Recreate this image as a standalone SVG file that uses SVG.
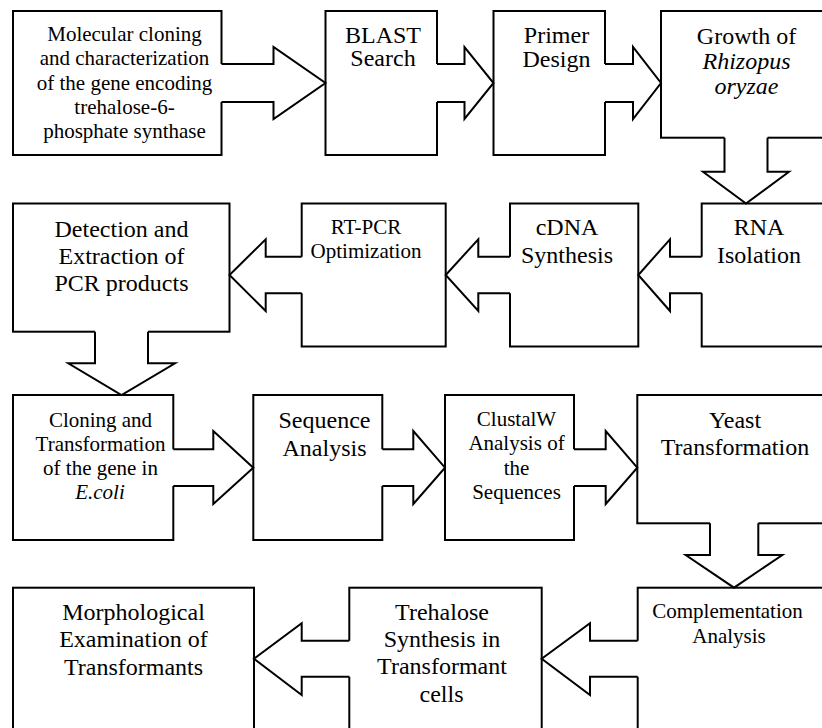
<svg xmlns="http://www.w3.org/2000/svg" width="822" height="728" viewBox="0 0 822 728">
<style>
.box{fill:#fff;stroke:#000;stroke-width:2}
.af{fill:#fff;stroke:none}
.al{fill:none;stroke:#000;stroke-width:2;stroke-linejoin:miter}
text{font-family:"Liberation Serif","Times New Roman",serif;fill:#000;text-anchor:middle}
.s21{font-size:21px}
.s24{font-size:24px}
.i{font-style:italic}
</style>
<rect width="822" height="728" fill="#fff"/>
<g id="n1"><rect class="box" x="13" y="11" width="208.5" height="144"/>
<text class="s21" x="124.5"><tspan x="124.5" y="41">Molecular cloning</tspan><tspan x="124.5" y="65">and characterization</tspan><tspan x="124.5" y="89.5">of the gene encoding</tspan><tspan x="124.5" y="113.5">trehalose-6-</tspan><tspan x="124.5" y="138">phosphate synthase</tspan></text></g>
<g id="n2"><rect class="box" x="325.5" y="11" width="111.5" height="144"/>
<text class="s24"><tspan x="383" y="42.5">BLAST</tspan><tspan x="383" y="66">Search</tspan></text></g>
<g id="n3"><rect class="box" x="493.5" y="11" width="111.5" height="144"/>
<text class="s24"><tspan x="556.5" y="43">Primer</tspan><tspan x="556.5" y="66.5">Design</tspan></text></g>
<g id="n4"><rect class="box" x="661" y="11" width="180" height="126.7"/>
<text class="s24"><tspan x="746.5" y="44">Growth of</tspan><tspan x="746.5" y="68.5" class="i">Rhizopus</tspan><tspan x="746.5" y="93.5" class="i">oryzae</tspan></text></g>
<g id="n5"><rect class="box" x="701.7" y="203.5" width="140" height="143"/>
<text class="s24"><tspan x="759" y="235">RNA</tspan><tspan x="759" y="263">Isolation</tspan></text></g>
<g id="n6"><rect class="box" x="510" y="203.5" width="128.3" height="143"/>
<text class="s24"><tspan x="567" y="235">cDNA</tspan><tspan x="567" y="263">Synthesis</tspan></text></g>
<g id="n7"><rect class="box" x="301.7" y="203.5" width="144" height="143"/>
<text class="s21"><tspan x="366" y="234">RT-PCR</tspan><tspan x="366" y="258">Optimization</tspan></text></g>
<g id="n8"><rect class="box" x="13" y="203.5" width="216.5" height="128.2"/>
<text class="s24"><tspan x="121.5" y="236.5">Detection and</tspan><tspan x="121.5" y="263.5">Extraction of</tspan><tspan x="121.5" y="290.5">PCR products</tspan></text></g>
<g id="n9"><rect class="box" x="13" y="395" width="160.3" height="145"/>
<text class="s21"><tspan x="100.5" y="426.5">Cloning and</tspan><tspan x="100.5" y="450.5">Transformation</tspan><tspan x="100.5" y="475">of the gene in</tspan><tspan x="100" y="499.3" class="i">E.coli</tspan></text></g>
<g id="n10"><rect class="box" x="253.3" y="395" width="129" height="145"/>
<text class="s24"><tspan x="324.5" y="428.3">Sequence</tspan><tspan x="324.5" y="456">Analysis</tspan></text></g>
<g id="n11"><rect class="box" x="445" y="395" width="129" height="145"/>
<text class="s21"><tspan x="516.5" y="425.7">ClustalW</tspan><tspan x="516.5" y="450">Analysis of</tspan><tspan x="516.5" y="475">the</tspan><tspan x="516.5" y="499.3">Sequences</tspan></text></g>
<g id="n12"><rect class="box" x="637.3" y="395" width="200" height="128.3"/>
<text class="s24"><tspan x="735" y="428.3">Yeast</tspan><tspan x="735" y="455">Transformation</tspan></text></g>
<g id="n13"><rect class="box" x="637.7" y="587.7" width="200" height="160"/>
<text class="s21"><tspan x="727.5" y="618.3">Complementation</tspan><tspan x="729" y="643.3">Analysis</tspan></text></g>
<g id="n14"><rect class="box" x="349.3" y="587.7" width="192.4" height="160"/>
<text class="s24"><tspan x="442" y="620">Trehalose</tspan><tspan x="442" y="647.3">Synthesis in</tspan><tspan x="442" y="673.5">Transformant</tspan><tspan x="441.5" y="701.5">cells</tspan></text></g>
<g id="n15"><rect class="box" x="13" y="587.7" width="241" height="160"/>
<text class="s24"><tspan x="133.5" y="620">Morphological</tspan><tspan x="133.5" y="647.3">Examination of</tspan><tspan x="133.5" y="675">Transformants</tspan></text></g>
<g id="connectors">
<g><path class="af" d="M219.5 64H273.5V47L325.5 83L273.5 119V102H219.5Z"/><path class="al" d="M221.5 64H273.5V47L325.5 83L273.5 119V102H221.5"/></g>
<g><path class="af" d="M435 64H464.5V47L493.5 83L464.5 119V102H435Z"/><path class="al" d="M437 64H464.5V47L493.5 83L464.5 119V102H437"/></g>
<g><path class="af" d="M603 64H633V47L661 83L633 119V102H603Z"/><path class="al" d="M605 64H633V47L661 83L633 119V102H605"/></g>
<g><path class="af" d="M724.5 135.7V171.7H703L746 203.5L789 171.7H767.5V135.7Z"/><path class="al" d="M724.5 137.7V171.7H703L746 203.5L789 171.7H767.5V137.7"/></g>
<g><path class="af" d="M703.7 256.7H670V239.3L638.3 275L670 311V293.3H703.7Z"/><path class="al" d="M701.7 256.7H670V239.3L638.3 275L670 311V293.3H701.7"/></g>
<g><path class="af" d="M512 256.7H478.3V239.3L445.7 275L478.3 311V293.3H512Z"/><path class="al" d="M510 256.7H478.3V239.3L445.7 275L478.3 311V293.3H510"/></g>
<g><path class="af" d="M303.7 256.7H265.7V239.3L229.5 275L265.7 311V293.3H303.7Z"/><path class="al" d="M301.7 256.7H265.7V239.3L229.5 275L265.7 311V293.3H301.7"/></g>
<g><path class="af" d="M95 329.7V363.3H68.3L121.5 395L175 363.3H148V329.7Z"/><path class="al" d="M95 331.7V363.3H68.3L121.5 395L175 363.3H148V331.7"/></g>
<g><path class="af" d="M171.3 449.3H213.3V431L253.3 467.7L213.3 504V486H171.3Z"/><path class="al" d="M173.3 449.3H213.3V431L253.3 467.7L213.3 504V486H173.3"/></g>
<g><path class="af" d="M380.3 449.3H413.3V431L445 467.7L413.3 504V486H380.3Z"/><path class="al" d="M382.3 449.3H413.3V431L445 467.7L413.3 504V486H382.3"/></g>
<g><path class="af" d="M572 449.3H605.7V431L637.3 467.7L605.7 504V486H572Z"/><path class="al" d="M574 449.3H605.7V431L637.3 467.7L605.7 504V486H574"/></g>
<g><path class="af" d="M710 521.3V555H685.7L734 587.7L782.3 555H758.3V521.3Z"/><path class="al" d="M710 523.3V555H685.7L734 587.7L782.3 555H758.3V523.3"/></g>
<g><path class="af" d="M639.7 640.7H590V623.3L541.7 658.7L590 695V676.7H639.7Z"/><path class="al" d="M637.7 640.7H590V623.3L541.7 658.7L590 695V676.7H637.7"/></g>
<g><path class="af" d="M351.3 640.7H301.7V623.3L254 658.7L301.7 695V676.7H351.3Z"/><path class="al" d="M349.3 640.7H301.7V623.3L254 658.7L301.7 695V676.7H349.3"/></g>
</g>
</svg>
